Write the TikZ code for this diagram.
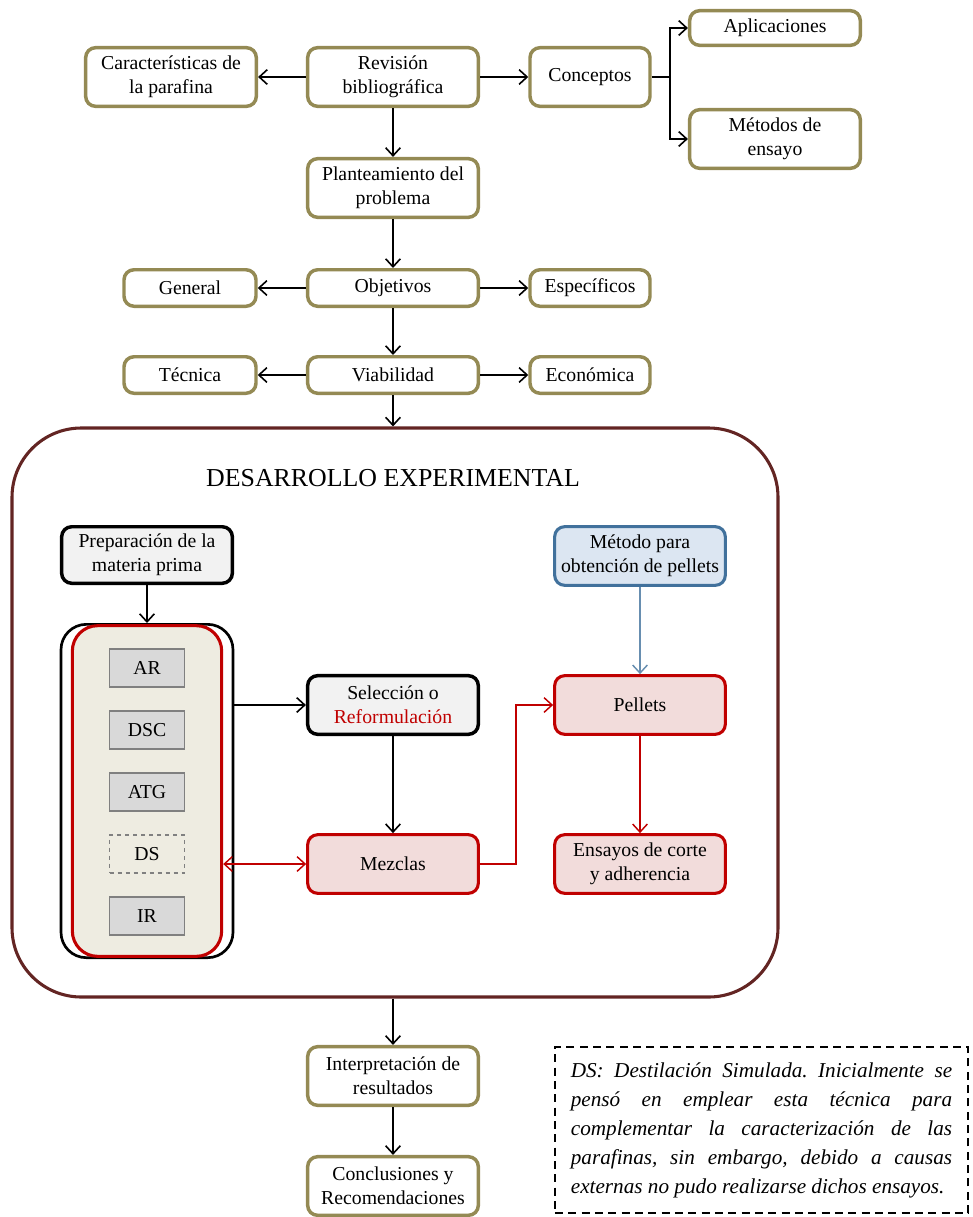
\documentclass[tikz,border=0pt]{standalone}
\usepackage{fontspec}
\setmainfont{Liberation Serif}
\usetikzlibrary{arrows.meta}
\frenchspacing
\hyphenpenalty=10000
\exhyphenpenalty=10000

\definecolor{olivo}{HTML}{948A54}
\definecolor{granate}{HTML}{632523}
\definecolor{rojo}{HTML}{C00000}
\definecolor{rosa}{HTML}{F2DCDB}
\definecolor{azul}{HTML}{41719C}
\definecolor{celeste}{HTML}{DCE6F2}
\definecolor{gris}{HTML}{F2F2F2}
\definecolor{grisosc}{HTML}{D9D9D9}
\definecolor{beige}{HTML}{EEECE1}

\tikzset{
  caja/.style={draw=olivo, line width=2.6pt, rounded corners=7.5pt, fill=white, align=center,
    inner sep=1pt, minimum width=128pt, minimum height=44pt, font=\fontsize{14.8}{18}\selectfont},
  chica/.style={minimum height=27.4pt},
  tecnica/.style={draw=black!50, fill=grisosc, line width=1.1pt, minimum width=56pt,
    minimum height=28.5pt, font=\fontsize{14.8}{18}\selectfont},
  punta/.tip={Straight Barb[length=6pt,width=11pt]},
  flecha/.style={-punta, line width=1.2pt}
}

\begin{document}
\begin{tikzpicture}[x=0.75pt,y=0.75pt,yscale=-1,xscale=1]
\useasboundingbox (0,0) rectangle (973,1217);

% Revision and objectives
\node[caja] (car) at (171,77) {Características de\\la parafina};
\node[caja] (rev) at (393,77) {Revisión\\bibliográfica};
\node[caja, minimum width=90pt] (con) at (590,77) {Conceptos};
\node[caja, minimum height=26pt] (apl) at (775,28) {Aplicaciones};
\node[caja] (met) at (775,139) {Métodos de\\ensayo};
\node[caja] (pla) at (393,188) {Planteamiento del\\problema};
\node[caja, chica] (obj) at (393,288) {Objetivos};
\node[caja, chica, minimum width=99pt] (gen) at (190,288) {General};
\node[caja, chica, minimum width=90pt] (esp) at (590,288) {Específicos};
\node[caja, chica] (via) at (393,375) {Viabilidad};
\node[caja, chica, minimum width=99pt] (tec) at (190,375) {Técnica};
\node[caja, chica, minimum width=90pt] (eco) at (590,375) {Económica};

\draw[flecha] (rev) -- (car);
\draw[flecha] (rev) -- (con);
\draw[line width=1.2pt] (con.east) -- ++(18,0) coordinate (ram);
\draw[flecha] (ram) |- (apl.west);
\draw[flecha] (ram) |- (met.west);
\draw[flecha] (rev) -- (pla);
\draw[flecha] (pla) -- (obj);
\draw[flecha] (obj) -- (gen);
\draw[flecha] (obj) -- (esp);
\draw[flecha] (obj) -- (via);
\draw[flecha] (via) -- (tec);
\draw[flecha] (via) -- (eco);

% Desarrollo experimental
\node[draw=granate, line width=2.3pt, rounded corners=52pt, minimum width=574.5pt,
  minimum height=426.75pt] (des) at (395,712.5) {};
\node[font=\fontsize{19.4}{22}\selectfont] (tit) at (393,478) {DESARROLLO EXPERIMENTAL};
\draw[flecha] (via.south) -- (via.south |- des.north);

\node[caja, draw=black, fill=gris, minimum height=42.4pt] (pre) at (147,555) {Preparación de la\\materia prima};
\node[draw=black, line width=2pt, rounded corners=19pt, minimum width=129pt,
  minimum height=250pt] (grp) at (147,791) {};
\node[draw=rojo, fill=beige, line width=2.3pt, rounded corners=19pt, minimum width=112pt,
  minimum height=248pt] (ana) at (147,791) {};
\foreach \t/\y/\n in {AR/668/ar, DSC/730/dsc, ATG/792/atg, IR/916/ir}
  \node[tecnica] (\n) at (147,\y) {\t};
\node[tecnica, dashed, fill=none] (ds) at (147,854) {DS};

\node[caja, draw=black, fill=gris] (sel) at (393,705) {Selección o\\\textcolor{rojo}{Reformulación}};
\node[caja, draw=rojo, line width=2.3pt, fill=rosa] (mez) at (393,864) {Mezclas};
\node[caja, draw=azul, line width=2.3pt, fill=celeste] (mpe) at (640,556) {Método para\\obtención de pellets};
\node[caja, draw=rojo, line width=2.3pt, fill=rosa] (pel) at (640,705) {Pellets};
\node[caja, draw=rojo, line width=2.3pt, fill=rosa] (ens) at (640,864) {Ensayos de corte\\y adherencia};

\draw[flecha] (pre) -- (grp);
\draw[flecha] (grp.east |- sel) -- (sel);
\draw[flecha] (sel) -- (mez);
\draw[rojo, line width=1.1pt, punta-punta] (ana.east |- mez) -- (mez);
\draw[flecha, rojo, line width=1.1pt] (mez.east) -- ++(36,0) |- (pel.west);
\draw[flecha, azul!80!white, line width=1.1pt] (mpe) -- (pel);
\draw[flecha, rojo, line width=1.1pt] (pel) -- (ens);

% Results
\node[caja] (int) at (393,1076) {Interpretación de\\resultados};
\node[caja] (clu) at (393,1186) {Conclusiones y\\Recomendaciones};
\draw[flecha] (int.north |- des.south) -- (int);
\draw[flecha] (int) -- (clu);

% Text Node
\node[draw, line width=1.1pt, dash pattern=on 6pt off 4pt, minimum width=310pt, minimum height=124.5pt,
  text width=286pt, align=justify, font=\fontsize{15.9}{21.75}\itshape]
  (nota) at (761.5,1130) {DS: Destilación Simulada. Inicialmente se\linebreak pensó en emplear esta técnica para\linebreak complementar la caracterización de las\linebreak parafinas, sin embargo, debido a causas\linebreak externas no pudo realizarse dichos ensayos.};
\end{tikzpicture}
\end{document}
